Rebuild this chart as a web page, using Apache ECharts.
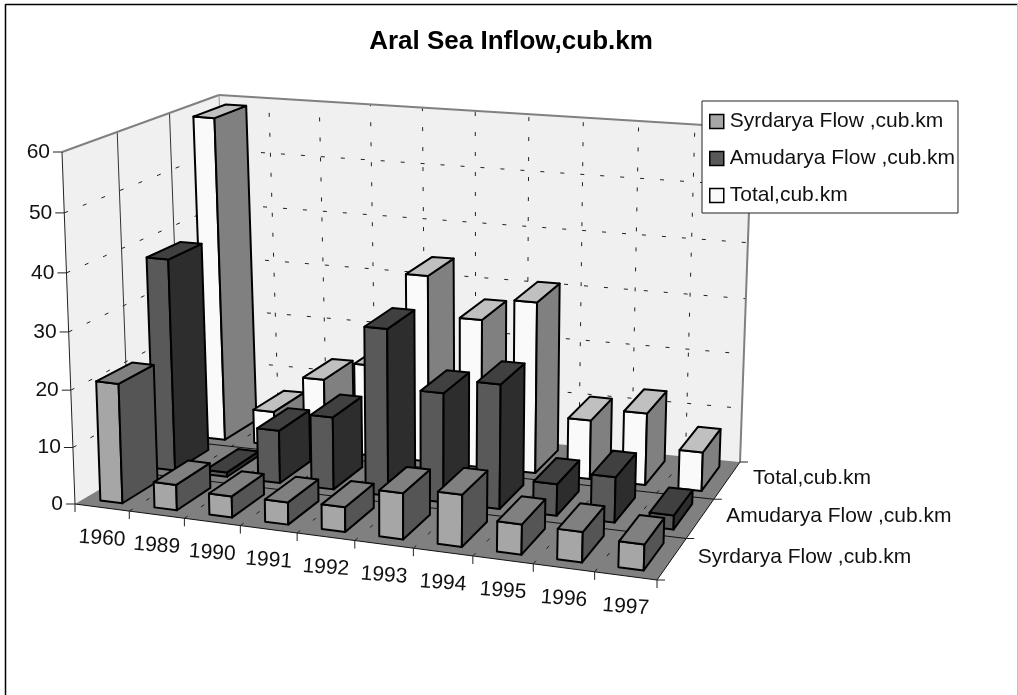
<!DOCTYPE html>
<html>
<head>
<meta charset="utf-8">
<title>Aral Sea Inflow</title>
<style>
  html, body { margin: 0; padding: 0; background: #fff; }
  #chart { width: 1018px; height: 695px; }
</style>
<script src="https://cdn.jsdelivr.net/npm/echarts@6/dist/echarts.min.js"></script>
</head>
<body>
<div id="chart"></div>
<script>
// data
const years = ["1960", "1989", "1990", "1991", "1992", "1993", "1994", "1995", "1996", "1997"];
const depthNames = ["Syrdarya Flow ,cub.km", "Amudarya Flow ,cub.km", "Total,cub.km"];
const valueTicks = [0, 10, 20, 30, 40, 50, 60];
const syrdarya = [21, 4.5, 3.7, 3.9, 4.3, 8, 9, 5.2, 5.2, 4.4];
const amudarya = [38, 0.8, 9.5, 13, 29.6, 19.4, 22, 5.6, 8, 2.5];
const total = [59, 6.3, 13.3, 16.8, 34, 27, 31, 10.7, 13, 7];

const FONT = "'Liberation Sans', Arial, sans-serif";

// corners of the floor and of the plane at the top of the value axis, in screen px
const floorQuad = [[75, 504], [657, 580], [740, 462], [231, 412]];
const topQuad = [[62, 152], [668, 209], [752, 128], [219, 95]];
// foreshortening along each direction
const heightPersp = -0.044;
const widthPersp = 0.08;
const depthPersp = 0.085;

// face colours: front, side, top
const palette = {
  syr: ["#a6a6a6", "#555555", "#808080"],
  amu: ["#595959", "#2d2d2d", "#404040"],
  tot: ["#fafafa", "#808080", "#c0c0c0"],
};

function bilinear(quad, s, t) {
  const [p0, p1, p2, p3] = quad;
  return [0, 1].map((k) => {
    const near = p0[k] + (p1[k] - p0[k]) * s;
    const far = p3[k] + (p2[k] - p3[k]) * s;
    return near + (far - near) * t;
  });
}

// u along years, w into depth, v up -> screen
function project(u, w, v) {
  const s = u / (1 + widthPersp * (1 - u));
  const d = (w * (1 + depthPersp)) / (1 + depthPersp * w);
  const t = (v * (1 + heightPersp)) / (1 + heightPersp * v);
  const p = bilinear(floorQuad, s, d);
  const q = bilinear(topQuad, s, d);
  return [p[0] + (q[0] - p[0]) * t, p[1] + (q[1] - p[1]) * t];
}

// fraction of the value axis, taken from the chart's own y scale
function valueToV(api, params, val) {
  const cs = params.coordSys;
  return (cs.y + cs.height - api.coord([0, val])[1]) / cs.height;
}

function poly(points, fill, stroke, lineWidth) {
  return {
    type: "polygon",
    shape: { points },
    style: { fill, stroke: stroke || "none", lineWidth: lineWidth || 0, lineJoin: "round" },
  };
}

function seg(a, b, stroke, lineWidth, dash) {
  return {
    type: "line",
    shape: { x1: a[0], y1: a[1], x2: b[0], y2: b[1] },
    style: { stroke, lineWidth, lineDash: dash || null, fill: null },
  };
}

function label(text, x, y, align, rot) {
  return {
    type: "text",
    x,
    y,
    rotation: rot || 0,
    style: {
      text,
      font: "21px " + FONT,
      fill: "#111",
      textAlign: align,
      textVerticalAlign: "middle",
    },
  };
}

// walls, floor, grid lines, ticks and axis labels
function renderScene(params, api) {
  const kids = [];
  const n = years.length;
  const rows = depthNames.length;
  const dash = [4, 16];

  kids.push(poly([project(0, 0, 0), project(0, 1, 0), project(0, 1, 1), project(0, 0, 1)], "#f0f0f0"));
  kids.push(poly([project(0, 1, 0), project(1, 1, 0), project(1, 1, 1), project(0, 1, 1)], "#f0f0f0"));
  kids.push(poly([project(0, 0, 0), project(1, 0, 0), project(1, 1, 0), project(0, 1, 0)], "#808080"));

  valueTicks.forEach((t) => {
    const v = valueToV(api, params, t);
    if (t > 0 && t < 60) {
      kids.push(seg(project(0, 0, v), project(0, 1, v), "#222", 1, dash));
      kids.push(seg(project(0, 1, v), project(1, 1, v), "#222", 1, dash));
    }
    const p = project(0, 0, v);
    kids.push(seg([p[0] - 9, p[1]], p, "#222", 1));
    kids.push(label(String(t), p[0] - 12, p[1], "right"));
  });

  for (let i = 1; i < n; i++) {
    const u = i / n;
    kids.push(seg(project(u, 1, 0), project(u, 1, 1), "#222", 1, dash));
    kids.push(seg(project(u, 0, 0), project(u, 1, 0), "#222", 1, dash));
  }
  for (let r = 1; r < rows; r++) {
    const w = r / rows;
    kids.push(seg(project(0, w, 0), project(0, w, 1), "#333", 1));
    kids.push(seg(project(0, w, 0), project(1, w, 0), "#111", 1));
  }

  // edges
  kids.push(seg(project(0, 0, 1), project(0, 1, 1), "#808080", 2));
  kids.push(seg(project(0, 1, 1), project(1, 1, 1), "#808080", 2));
  kids.push(seg(project(1, 1, 0), project(1, 1, 1), "#808080", 2));
  kids.push(seg(project(0, 1, 0), project(0, 1, 1), "#999", 1));
  kids.push(seg(project(0, 0, 0), project(0, 0, 1), "#222", 1));
  kids.push(seg(project(0, 0, 0), project(1, 0, 0), "#111", 1));
  kids.push(seg(project(1, 0, 0), project(1, 1, 0), "#111", 1));

  // year ticks and labels
  for (let i = 0; i <= n; i++) {
    const p = project(i / n, 0, 0);
    kids.push(seg(p, [p[0], p[1] + 8], "#222", 1));
  }
  years.forEach((y, i) => {
    const p = project((i + 0.5) / n, 0, 0);
    kids.push(label(y, p[0], p[1] + 31, "center", (-4 * Math.PI) / 180));
  });

  // depth ticks and labels
  for (let r = 0; r <= rows; r++) {
    const p = project(1, r / rows, 0);
    kids.push(seg(p, [p[0] + 8, p[1]], "#222", 1));
  }
  depthNames.forEach((name, r) => {
    const p = project(1, (r + 0.5) / rows, 0);
    kids.push(label(name, p[0] + 26, p[1] - 2, "left"));
  });

  return { type: "group", children: kids };
}

// one box per data item, row says how far back the series stands
function makeBarRenderer(row, colors) {
  const barShare = 0.41; // part of the year slot
  const depthShare = 0.66; // part of the depth slot
  return (params, api) => {
    const idx = api.value(0);
    const val = api.value(1);
    const n = years.length;
    const rows = depthNames.length;
    const u0 = (idx + 0.5 - barShare / 2) / n;
    const u1 = (idx + 0.5 + barShare / 2) / n;
    const w0 = (row + 0.5 - depthShare / 2) / rows;
    const w1 = (row + 0.5 + depthShare / 2) / rows;
    const v = valueToV(api, params, val);
    const fb = project(u0, w0, 0), fr = project(u1, w0, 0), br = project(u1, w1, 0);
    const ft = project(u0, w0, v), rt = project(u1, w0, v), bt = project(u1, w1, v), lt = project(u0, w1, v);
    return {
      type: "group",
      children: [
        poly([fb, fr, rt, ft], colors[0], "#000", 2),
        poly([fr, br, bt, rt], colors[1], "#000", 2),
        poly([ft, rt, bt, lt], colors[2], "#000", 2),
      ],
    };
  };
}

function barSeries(name, row, values, colors) {
  return {
    name,
    type: "custom",
    coordinateSystem: "cartesian2d",
    renderItem: makeBarRenderer(row, colors),
    encode: { x: 0, y: 1 },
    data: values.map((v, i) => [i, v]),
    itemStyle: { color: colors[0] },
    silent: true,
    animation: false,
  };
}

const chart = echarts.init(document.getElementById("chart"), null, { renderer: "canvas" });
chart.setOption({
  animation: false,
  backgroundColor: "#fff",
  title: {
    text: "Aral Sea Inflow,cub.km",
    left: 506,
    top: 24,
    textAlign: "center",
    textStyle: { fontFamily: FONT, fontSize: 26, fontWeight: "bold", color: "#000" },
  },
  grid: { left: 75, right: 361, top: 152, bottom: 191 },
  xAxis: { type: "category", data: years, show: false },
  yAxis: { type: "value", min: 0, max: 60, interval: 10, show: false },
  legend: {
    left: 702,
    top: 101,
    orient: "vertical",
    selectedMode: false,
    backgroundColor: "#fff",
    borderColor: "#222",
    borderWidth: 1,
    borderRadius: 0,
    padding: [10, 3, 7, 7],
    itemGap: 16,
    itemWidth: 14,
    itemHeight: 14,
    textStyle: { fontFamily: FONT, fontSize: 21, color: "#111", padding: [0, 0, 0, 1] },
    data: depthNames.map((name, r) => ({
      name,
      icon: "rect",
      itemStyle: {
        color: [palette.syr, palette.amu, palette.tot][r][0],
        borderColor: "#000",
        borderWidth: 1.5,
      },
    })),
  },
  graphic: [
    { type: "line", shape: { x1: 5.5, y1: 4.5, x2: 1018, y2: 4.5 }, style: { stroke: "#000", lineWidth: 1.5 }, silent: true },
    { type: "line", shape: { x1: 5.5, y1: 4, x2: 5.5, y2: 695 }, style: { stroke: "#000", lineWidth: 1.5 }, silent: true },
    { type: "line", shape: { x1: 1017.5, y1: 4, x2: 1017.5, y2: 695 }, style: { stroke: "#c0c0c0", lineWidth: 1 }, silent: true },
  ],
  series: [
    {
      name: "scene",
      type: "custom",
      coordinateSystem: "cartesian2d",
      renderItem: renderScene,
      data: [[0, 0]],
      silent: true,
      animation: false,
      z: 1,
    },
    barSeries(depthNames[2], 2, total, palette.tot),
    barSeries(depthNames[1], 1, amudarya, palette.amu),
    barSeries(depthNames[0], 0, syrdarya, palette.syr),
  ],
});
</script>
</body>
</html>
